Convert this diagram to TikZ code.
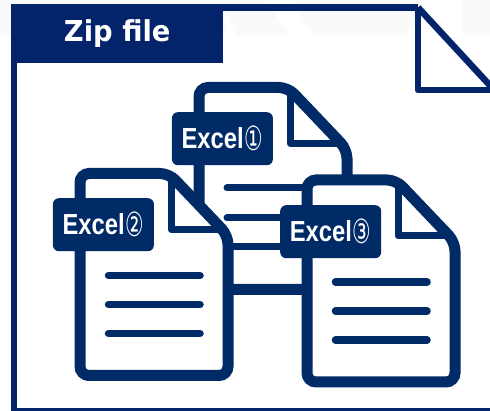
\documentclass[tikz,border=0pt]{standalone}
\usepackage{fontspec}
\usepackage{graphicx}
\setmainfont{DejaVu Sans}
\newfontfamily\lblfont{Liberation Sans}
\newfontfamily\circfont{DejaVu Sans}
\definecolor{navy}{HTML}{002B66}
\definecolor{headnavy}{HTML}{03236B}
\definecolor{faint}{HTML}{FAFAFB}
\tikzset{
  framebar/.style={draw=headnavy,line width=6.5pt,line join=round},
  docbody/.style={draw=navy,fill=white,line width=11pt,rounded corners=9pt},
  docfold/.style={draw=navy,line width=7pt,line join=round},
  docline/.style={draw=navy,line width=7.5pt,line cap=round},
  doclabel/.style={fill=navy,rounded corners=6pt,minimum width=101pt,minimum height=53pt,inner sep=0pt,text=white,font=\lblfont\bfseries},
  headbox/.style={fill=headnavy,minimum width=212pt,minimum height=59pt,inner sep=0pt,text=white,font=\bfseries\fontsize{28.8}{29}\selectfont}
}
\newcommand{\excellabel}[1]{\raisebox{-1pt}{\scalebox{0.82}[1]{\fontsize{29}{29}\selectfont Excel}}\hspace{1pt}\raisebox{-3pt}{\scalebox{0.9}[1.45]{\fontsize{23}{23}\selectfont\circfont\mdseries #1}}}
\newcommand{\onedoc}[6]{%
  \draw[docbody] (#1,#2) -- (#1+89,#2) -- (#1+148,#2+62) -- (#1+148,#2+202) -- (#1,#2+202) -- cycle;
  \draw[docfold] (#1+91,#2+2) -- (#1+91,#2+56) -- (#1+144,#2+56);
  \foreach \k in {102,131,160}{\draw[docline] (#1+28.5,#2+\k) -- (#1+120,#2+\k);}
  \node[doclabel,anchor=north west] (#3) at (#4,#5) {\excellabel{#6}};
}
\begin{document}
\begin{tikzpicture}[x=1pt,y=-1pt]
\useasboundingbox (0,0) rectangle (490,411);
\clip (0,0) rectangle (490,411);
\fill[white] (0,0) rectangle (490,411);
% faint watermark at the top edge
\fill[faint] (0,0) rectangle (225,35);
\fill[faint] (237,35) -- (290,35) -- (264,0) -- (225,0) -- (225,12) -- cycle;
\fill[faint] (295,0) .. controls (300,22) and (310,35) .. (325,35) -- (395,35) .. controls (408,35) and (415,25) .. (420,15) -- (420,0) -- cycle;
\fill[faint] (462,0) rectangle (490,35);
\draw[framebar] (418,7.5) -- (14,7.5) -- (14,411);
\draw[framebar] (14,411) -- (490,411);
\draw[framebar] (418,7.5) -- (418,90) -- (495,90);
\draw[framebar] (418,7.5) -- (496,92);
\node[headbox,anchor=north west] (head) at (11,4) {\scalebox{0.95}[1]{Zip file}};
% back document
\draw[docbody] (199,87.5) -- (288,87.5) -- (347,149.5) -- (347,289.5) -- (199,289.5) -- cycle;
\draw[docfold] (290,89.5) -- (290,143.5) -- (343,143.5);
\foreach \k in {188,218,247}{\draw[navy,line width=7pt,line cap=round] (227,\k) -- (320,\k);}
\node[doclabel,anchor=north west] (a) at (171.7,112) {\excellabel{①}};
\onedoc{80}{173.5}{b}{52.7}{198}{②}
\onedoc{307}{180}{c}{280}{205}{③}
\end{tikzpicture}
\end{document}
